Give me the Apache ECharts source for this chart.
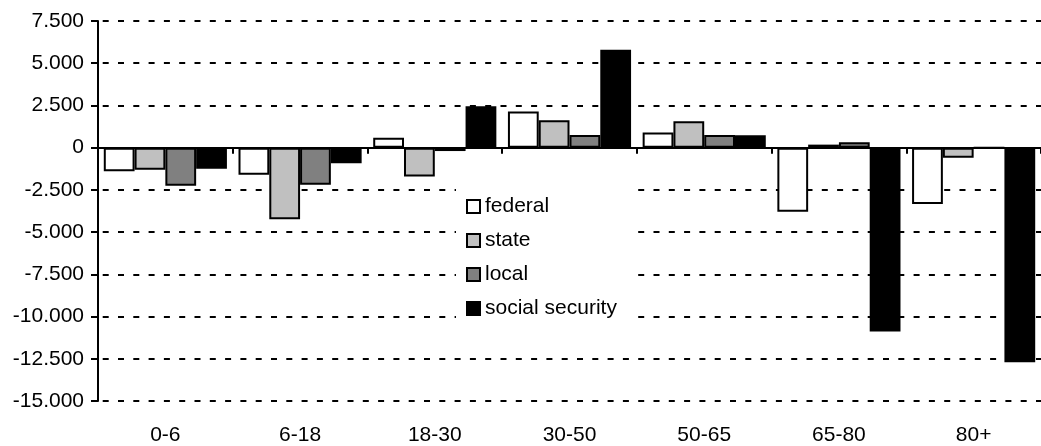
<!DOCTYPE html>
<html>
<head>
<meta charset="utf-8">
<script src="https://cdn.jsdelivr.net/npm/echarts@6/dist/echarts.min.js"></script>
<style>
html,body{margin:0;padding:0;background:#fff;}
#c{width:1041px;height:446px;}
</style>
</head>
<body>
<div id="c"></div>
<script>
const categories = ['0-6', '6-18', '18-30', '30-50', '50-65', '65-80', '80+'];
const federal = [-1400, -1600, 590, 2140, 900, -3790, -3340];
const state = [-1310, -4240, -1700, 1630, 1570, 180, -600];
const local = [-2250, -2190, -200, 750, 750, 320, 0];
const socialSecurity = [-1250, -920, 2450, 5800, 740, -10890, -12710];
const seriesNames = ['federal', 'state', 'local', 'social security'];
const seriesColors = ['#ffffff', '#c0c0c0', '#808080', '#000000'];

const FONT = 'Arial, "Liberation Sans", sans-serif';
function fmt(v) {
  if (v === 0) return '0';
  const neg = v < 0;
  const s = String(Math.abs(v)).replace(/\B(?=(\d{3})+(?!\d))/g, '.');
  return (neg ? '-' : '') + s;
}

const dataSets = [federal, state, local, socialSecurity];
const chart = echarts.init(document.getElementById('c'), null, {renderer: 'canvas'});
chart.setOption({
  animation: false,
  backgroundColor: '#ffffff',
  grid: {left: 98, right: -6, top: 21, bottom: 44},
  legend: {
    orient: 'vertical',
    left: 456,
    top: 187,
    padding: [9, 19, 9, 10],
    backgroundColor: '#ffffff',
    itemWidth: 13,
    itemHeight: 13,
    itemGap: 13,
    icon: 'rect',
    textStyle: {fontFamily: FONT, fontSize: 21, color: '#000', padding: [0, 0, 0, 0]},
    itemStyle: {borderColor: '#000', borderWidth: 2},
    data: seriesNames
  },
  xAxis: [
    {
      type: 'category',
      data: categories,
      position: 'bottom',
      axisLine: {onZero: true, lineStyle: {color: '#000', width: 2}},
      axisTick: {show: true, length: 6, lineStyle: {color: '#000', width: 2}},
      axisLabel: {show: false},
      splitLine: {show: false}
    },
    {
      type: 'category',
      data: categories,
      position: 'bottom',
      axisLine: {show: false, onZero: false},
      axisTick: {show: false},
      axisLabel: {show: true, margin: 24, fontFamily: FONT, fontSize: 21, color: '#000'},
      splitLine: {show: false}
    }
  ],
  yAxis: {
    type: 'value',
    min: -15000,
    max: 7500,
    interval: 2500,
    axisLine: {show: true, lineStyle: {color: '#000', width: 2}},
    axisTick: {show: true, length: 7, lineStyle: {color: '#000', width: 2}},
    axisLabel: {margin: 14, fontFamily: FONT, fontSize: 21, color: '#000', formatter: fmt},
    splitLine: {show: true, lineStyle: {color: '#000', width: 2, type: [6, 9.3], dashOffset: 10.6}}
  },
  series: seriesNames.map((name, i) => ({
    name: name,
    type: 'bar',
    xAxisIndex: 0,
    data: dataSets[i],
    barGap: '0%',
    barCategoryGap: '8.6%',
    itemStyle: {color: seriesColors[i], borderColor: '#000', borderWidth: 2}
  }))
});
</script>
</body>
</html>
